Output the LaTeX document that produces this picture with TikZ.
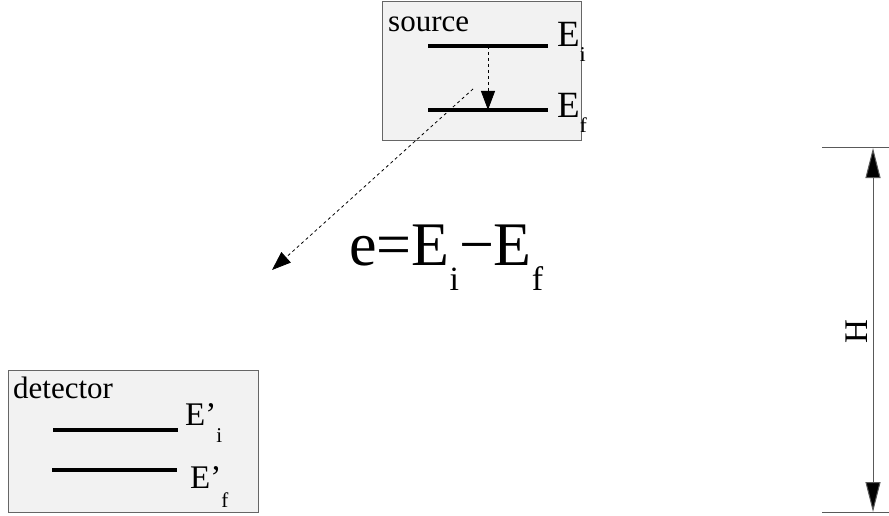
\documentclass[tikz,border=0pt]{standalone}
\usepackage{fontspec}
\setmainfont{Liberation Serif}
\usetikzlibrary{arrows.meta,positioning}

\tikzset{
  box/.style={draw=black!60, fill=black!5, line width=1pt},
  level/.style={line width=3.5pt},
  lbl/.style={anchor=base west, inner sep=0pt},
  trans/.style={dashed, dash pattern=on 3pt off 3pt, line width=0.8pt,
    -{Triangle[length=19pt,width=14pt]}},
  dim/.style={draw=black!65, line width=1pt}
}
\newcommand{\sub}[2]{\raisebox{#1}{\fontsize{21}{21}\selectfont #2}}

\begin{document}
\begin{tikzpicture}[x=1pt,y=-1pt]
\useasboundingbox (0,0) rectangle (889,516);

% source
\filldraw[box] (382,2) rectangle (581,141);
\node[lbl, font=\fontsize{31}{31}\selectfont] (srclbl) at (388,32) {source};
\coordinate (Eil) at (428,46); \coordinate (Eir) at (548,46);
\coordinate (Efl) at (428,110); \coordinate (Efr) at (548,110);
\draw[level] (Eil) -- (Eir);
\draw[level] (Efl) -- (Efr);
\node[lbl, font=\fontsize{37}{37}\selectfont] (Ei) at (557,47) {E\sub{-15pt}{i}};
\node[lbl, font=\fontsize{37}{37}\selectfont] (Ef) at (557,118) {E\sub{-15pt}{f}};
\coordinate (up) at (488,46); \coordinate (down) at (488,110);
\draw[trans] (up) -- (down); %decay

% emitted photon
\coordinate (emit) at (473,89);
\coordinate (hit) at (272,270);
\draw[trans] (emit) -- (hit);
\node[lbl, font=\fontsize{62}{62}\selectfont] (eq) at (349,265)
  {e=E\raisebox{-25pt}{\fontsize{34}{34}\selectfont i}−E\raisebox{-25pt}{\fontsize{34}{34}\selectfont f}};

% detector
\filldraw[box] (8,370) rectangle (258,512);
\node[lbl, font=\fontsize{31}{31}\selectfont] (detlbl) at (13,398) {detector};
\coordinate (Dil) at (53,430); \coordinate (Dir) at (178,430);
\coordinate (Dfl) at (52,470); \coordinate (Dfr) at (177,470);
\draw[level] (Dil) -- (Dir);
\draw[level] (Dfl) -- (Dfr);
\node[lbl, font=\fontsize{33}{33}\selectfont] (Di) at (185,425) {E’\sub{-17pt}{i}};
\node[lbl, font=\fontsize{33}{33}\selectfont] (Df) at (190,488) {E’\sub{-19pt}{f}};

% height
\coordinate (Ht) at (873,148); \coordinate (Hb) at (873,512);
\draw[dim] (822,148) -- (889,148);
\draw[dim] (822,512) -- (889,512);
\draw[dim, {Triangle[length=30pt,width=15pt,fill=black]}-{Triangle[length=30pt,width=15pt,fill=black]}] (Ht) -- (Hb);
\node[rotate=90, font=\fontsize{33}{33}\selectfont, inner sep=0pt] (H) at (857,332) {H};
\end{tikzpicture}
\end{document}
